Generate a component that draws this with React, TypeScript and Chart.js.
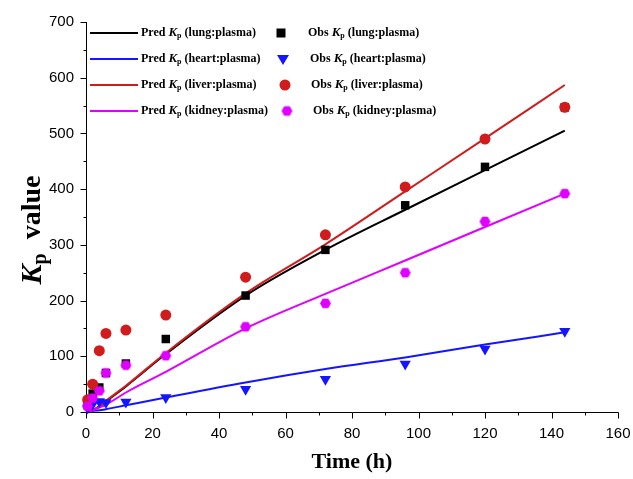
import React, { useEffect, useRef } from "react";
import { Chart, registerables } from "chart.js";

Chart.register(...registerables);

// ---------- data ----------
const predTime = [0, 1, 2, 4, 6, 12, 24, 48, 72, 96, 120, 144];
const predLung = [0, 1, 3, 10, 19, 46, 104, 209, 291, 363, 434, 505];
const predHeart = [0, 1, 2, 3, 5, 12, 26, 53, 77, 98, 121, 143];
const predLiver = [0, 1, 3, 10, 20, 47, 106, 213, 301, 396, 491, 587];
const predKidney = [0, 1, 3, 8, 13, 35, 72, 150, 212, 272, 332, 392];

const obsTime = [0.5, 2, 4, 6, 12, 24, 48, 72, 96, 120, 144];
const obsLung = [12, 33, 44, 70, 87, 131, 209, 291, 371, 440, 547];
const obsHeart = [7, 14, 19, 17, 18, 26, 41, 59, 86, 113, 145];
const obsLiver = [22, 50, 110, 141, 147, 174, 242, 318, 404, 490, 547];
const obsKidney = [10, 25, 38, 70, 84, 101, 153, 195, 250, 342, 392];

const tissues = ["lung", "heart", "liver", "kidney"];

const xMin = 0, xMax = 160, xMajor = 20, xMinor = 10;
const yMin = 0, yMax = 700, yMajor = 100, yMinor = 50;

const BLACK = "#000000";
const BLUE = "#1515ff";
const RED = "#d01c1c";
const MAGENTA = "#e000ff";

function pairs(xs: number[], ys: number[]) {
  return xs.map((x, i) => ({ x, y: ys[i] }));
}

function makeHexagon(color: string, r: number) {
  const s = Math.ceil(r * 2) + 2;
  const c = document.createElement("canvas");
  c.width = s;
  c.height = s;
  const ctx = c.getContext("2d")!;
  ctx.fillStyle = color;
  ctx.beginPath();
  for (let i = 0; i < 6; i++) {
    const a = (Math.PI / 3) * i;
    const x = s / 2 + r * Math.cos(a);
    const y = s / 2 + r * Math.sin(a);
    if (i === 0) ctx.moveTo(x, y);
    else ctx.lineTo(x, y);
  }
  ctx.closePath();
  ctx.fill();
  return c;
}

const SERIF = "'Liberation Serif', 'Times New Roman', serif";
const SANS = "'Liberation Sans', Arial, sans-serif";

// draws "<pre>K_p<post>" starting at x (left), vertically centred at y
function drawKpText(
  ctx: CanvasRenderingContext2D,
  pre: string,
  post: string,
  x: number,
  y: number,
  size: number,
  measureOnly = false
) {
  const parts = [
    { t: pre, f: `bold ${size}px ${SERIF}`, dy: 0 },
    { t: "K", f: `italic bold ${Math.round(size * 1.08)}px ${SERIF}`, dy: 0 },
    { t: "p", f: `bold ${Math.round(size * 0.7)}px ${SERIF}`, dy: size * 0.28 },
    { t: post, f: `bold ${size}px ${SERIF}`, dy: 0 },
  ];
  let cx = x;
  ctx.textBaseline = "middle";
  ctx.textAlign = "left";
  for (const p of parts) {
    ctx.font = p.f;
    if (!measureOnly) ctx.fillText(p.t, cx, y + p.dy);
    cx += ctx.measureText(p.t).width;
  }
  return cx - x;
}

const decorPlugin = {
  id: "decor",
  beforeDatasetsDraw(chart: any) {
    const ctx: CanvasRenderingContext2D = chart.ctx;
    const xs = chart.scales.x;
    const ys = chart.scales.y;
    const ca = chart.chartArea;
    ctx.save();
    ctx.strokeStyle = "#000";
    ctx.lineWidth = 1;
    const ax = Math.round(ca.left) + 0.5;
    const ay = Math.round(ca.bottom) + 0.5;
    ctx.beginPath();
    ctx.moveTo(ax, Math.round(ca.top));
    ctx.lineTo(ax, ay);
    ctx.lineTo(Math.round(ca.right) + 0.5, ay);
    for (let v = xMin; v <= xMax; v += xMinor) {
      const px = Math.round(xs.getPixelForValue(v)) + 0.5;
      const len = v % xMajor === 0 ? 6 : 3;
      ctx.moveTo(px, ay);
      ctx.lineTo(px, ay + len);
    }
    for (let v = yMin; v <= yMax; v += yMinor) {
      const py = Math.round(ys.getPixelForValue(v)) + 0.5;
      const len = v % yMajor === 0 ? 6 : 3;
      ctx.moveTo(ax, py);
      ctx.lineTo(ax - len, py);
    }
    ctx.stroke();
    ctx.restore();
  },
  afterDraw(chart: any) {
    const ctx: CanvasRenderingContext2D = chart.ctx;
    const ca = chart.chartArea;
    ctx.save();
    ctx.fillStyle = "#000";
    // x title
    ctx.font = `bold 22px ${SERIF}`;
    ctx.textAlign = "center";
    ctx.textBaseline = "alphabetic";
    ctx.fillText("Time (h)", (ca.left + ca.right) / 2, 468);
    // y title (rotated)
    ctx.save();
    ctx.translate(33, 230);
    ctx.rotate(-Math.PI / 2);
    const w = drawKpText(ctx, "", "  value", 0, 0, 28, true);
    drawKpText(ctx, "", "  value", -w / 2, 0, 28);
    ctx.restore();

    // legend
    const rowsY = [33, 59, 85, 111];
    const lineColors = [BLACK, BLUE, RED, MAGENTA];
    const markerX = [281, 283, 285, 287];
    const obsTextX = [308, 310, 311, 313];
    const hex = makeHexagon(MAGENTA, 5.5);
    rowsY.forEach((y, i) => {
      ctx.strokeStyle = lineColors[i];
      ctx.lineWidth = 2;
      ctx.beginPath();
      ctx.moveTo(90, y);
      ctx.lineTo(138, y);
      ctx.stroke();
      ctx.fillStyle = "#000";
      drawKpText(ctx, "Pred ", ` (${tissues[i]}:plasma)`, 141, y, 12);
      drawKpText(ctx, "Obs ", ` (${tissues[i]}:plasma)`, obsTextX[i], y, 12);
      const mx = markerX[i];
      ctx.fillStyle = lineColors[i];
      if (i === 0) {
        ctx.fillRect(mx - 4.5, y - 4.5, 9, 9);
      } else if (i === 1) {
        ctx.beginPath();
        ctx.moveTo(mx - 6, y - 4);
        ctx.lineTo(mx + 6, y - 4);
        ctx.lineTo(mx, y + 6);
        ctx.closePath();
        ctx.fill();
      } else if (i === 2) {
        ctx.beginPath();
        ctx.arc(mx, y, 5.5, 0, Math.PI * 2);
        ctx.fill();
      } else {
        ctx.drawImage(hex, mx - hex.width / 2, y - hex.height / 2);
      }
    });
    ctx.restore();
  },
};

export default function App() {
  const ref = useRef<HTMLCanvasElement | null>(null);

  useEffect(() => {
    if (!ref.current) return;
    const hex = makeHexagon(MAGENTA, 5.5);
    const lineDs = (label: string, ys: number[], color: string, order: number) => ({
      type: "line" as const,
      label,
      data: pairs(predTime, ys),
      borderColor: color,
      backgroundColor: color,
      borderWidth: 2,
      pointRadius: 0,
      cubicInterpolationMode: "monotone" as const,
      fill: false,
      order,
    });
    const obsDs = (label: string, ys: number[], color: string, style: any, radius: number, order: number, rot = 0) => ({
      type: "line" as const,
      label,
      data: pairs(obsTime, ys),
      showLine: false,
      borderColor: color,
      backgroundColor: color,
      pointStyle: style,
      pointRadius: radius,
      pointBorderWidth: 0,
      pointRotation: rot,
      clip: false as const,
      order,
    });

    const chart = new Chart(ref.current, {
      type: "line",
      data: {
        datasets: [
          lineDs("Pred Kp (lung:plasma)", predLung, BLACK, 10),
          lineDs("Pred Kp (heart:plasma)", predHeart, BLUE, 9),
          lineDs("Pred Kp (liver:plasma)", predLiver, RED, 8),
          lineDs("Pred Kp (kidney:plasma)", predKidney, MAGENTA, 7),
          obsDs("Obs Kp (lung:plasma)", obsLung, BLACK, "rect", 6, 5),
          obsDs("Obs Kp (heart:plasma)", obsHeart, BLUE, "triangle", 6.5, 4, 180),
          obsDs("Obs Kp (liver:plasma)", obsLiver, RED, "circle", 5.5, 2),
          obsDs("Obs Kp (kidney:plasma)", obsKidney, MAGENTA, hex, 5.5, 1),
        ] as any,
      },
      options: {
        animation: false,
        responsive: false,
        maintainAspectRatio: false,
        layout: { padding: { left: 0, top: 22, right: 15, bottom: 0 } },
        plugins: { legend: { display: false }, tooltip: { enabled: false } },
        scales: {
          x: {
            type: "linear",
            min: xMin,
            max: xMax,
            grid: { display: false, drawTicks: false },
            border: { display: false },
            ticks: {
              stepSize: xMajor,
              padding: 13,
              color: "#000",
              autoSkip: false,
              maxRotation: 0,
              font: { family: SANS, size: 15 },
            },
            afterFit: (s: any) => {
              s.height = 67;
              s.paddingLeft = 0;
              s.paddingRight = 0;
            },
          },
          y: {
            type: "linear",
            min: yMin,
            max: yMax,
            grid: { display: false, drawTicks: false },
            border: { display: false },
            ticks: {
              stepSize: yMajor,
              padding: 12,
              color: "#000",
              font: { family: SANS, size: 15 },
            },
            afterFit: (s: any) => {
              s.width = 86;
              s.paddingTop = 0;
              s.paddingBottom = 0;
            },
          },
        },
      },
      plugins: [decorPlugin],
    });
    return () => chart.destroy();
  }, []);

  return (
    <div style={{ position: "absolute", left: 0, top: 0, width: 633, height: 479, background: "#fff" }}>
      <canvas ref={ref} width={633} height={479} />
    </div>
  );
}
